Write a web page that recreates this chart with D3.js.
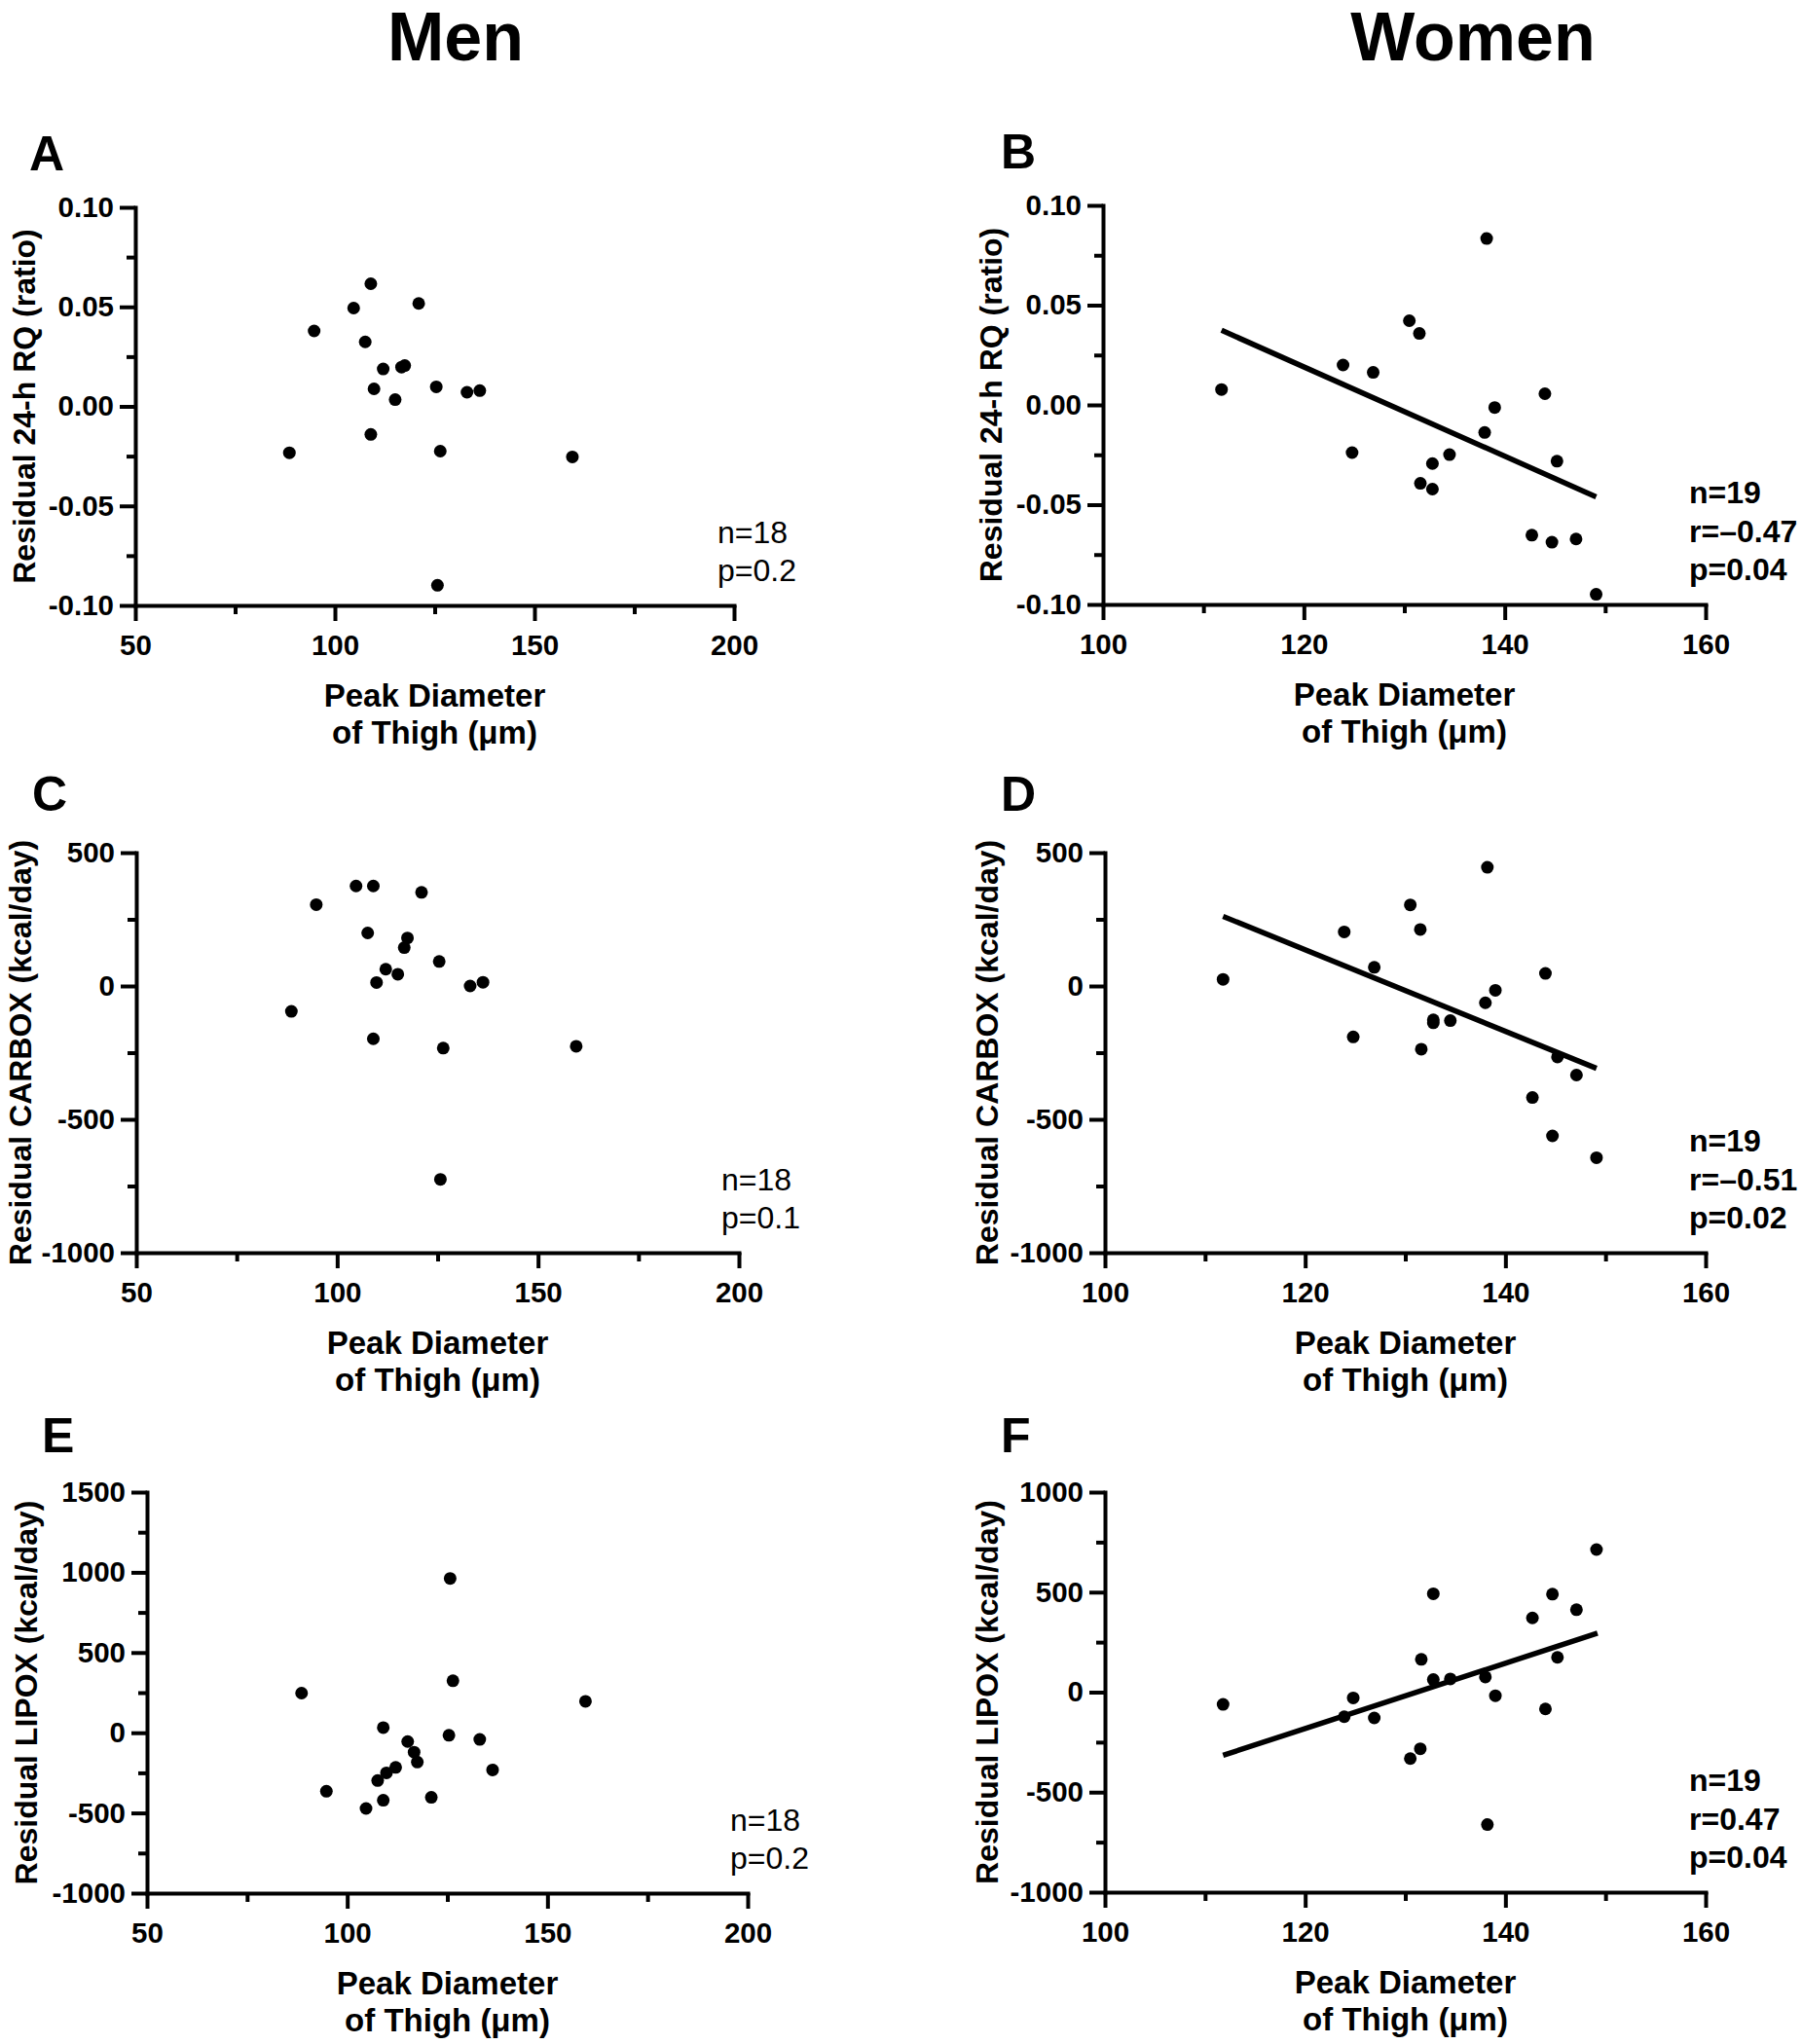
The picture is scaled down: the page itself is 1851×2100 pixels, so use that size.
<!DOCTYPE html>
<html><head><meta charset="utf-8">
<script src="https://cdn.jsdelivr.net/npm/d3@7"></script>
<style>
body{margin:0;background:#fff}
svg{display:block}
text{font-family:"Liberation Sans", Arial, Helvetica, sans-serif;fill:#000}
</style>
</head><body>
<svg id="chart" width="1851" height="2100"></svg>
<script>
// ---------------- DATA ----------------
const menDiameter = [88.6, 94.8, 104.7, 109.0, 107.6, 112.1, 109.8, 115.1, 109.0, 116.7, 117.5, 121.0, 125.4, 126.4, 125.7, 133.1, 136.3, 159.5];
const menRQ      = [-0.0233, 0.0379, 0.0494, 0.0616, 0.0324, 0.0188, 0.0088, 0.0034, -0.0141, 0.0197, 0.0205, 0.0517, 0.0098, -0.0225, -0.0899, 0.0071, 0.0079, -0.0254];
const menCARBOX  = [-95, 305, 375, 375, 199, 63, 13, 44, -198, 144, 180, 351, 92, -233, -725, 0, 14, -226];
const menLIPOX   = [247, -365, -472, -421, -298, -216, -250, -55, 32, -121, -183, -403, -16, 324, 962, -42, -232, 196];

const womenDiameter = [111.8, 123.9, 124.8, 126.9, 130.5, 131.5, 131.6, 132.8, 132.8, 134.5, 138.2, 138.0, 139.0, 142.7, 144.0, 144.7, 145.2, 147.1, 149.1];
const womenRQ       = [0.0077, 0.0200, -0.0239, 0.0163, 0.0422, 0.0358, -0.0393, -0.0422, -0.0294, -0.0249, 0.0834, -0.0138, -0.0013, -0.0653, 0.0056, -0.0688, -0.0282, -0.0672, -0.0949];
const womenCARBOX   = [25, 203, -191, 70, 304, 212, -237, -138, -127, -130, 445, -63, -16, -418, 47, -562, -266, -334, -644];
const womenLIPOX    = [-61, -123, -29, -129, -332, -283, 164, 492, 63, 66, -662, 76, -18, 371, -84, 490, 174, 412, 713];

// regression lines (women), endpoints
const fitRQ     = [[111.8, 0.0374], [149.1, -0.0461]];
const fitCARBOX = [[111.8, 261], [149.1, -309]];
const fitLIPOX  = [[111.8, -316], [149.2, 295]];

// ticks
const menXTicks = [50, 100, 150, 200];
const menXMinor = [75, 125, 175];
const womenXTicks = [100, 120, 140, 160];
const womenXMinor = [110, 130, 150];
const rqTicks = [-0.10, -0.05, 0.00, 0.05, 0.10];
const rqMinor = [-0.075, -0.025, 0.025, 0.075];
const carboxTicks = [-1000, -500, 0, 500];
const carboxMinor = [-750, -250, 250];
const lipoxMenTicks = [-1000, -500, 0, 500, 1000, 1500];
const lipoxMenMinor = [-750, -250, 250, 750, 1250];
const lipoxWomenTicks = [-1000, -500, 0, 500, 1000];
const lipoxWomenMinor = [-750, -250, 250, 750];

const columnTitles = ["Men", "Women"];
const xTitleLines = ["Peak Diameter", "of Thigh (\u03bcm)"];
const yTitles = ["Residual 24-h RQ (ratio)", "Residual CARBOX (kcal/day)", "Residual LIPOX (kcal/day)"];
const statsMen = [["n=18", "p=0.2"], ["n=18", "p=0.1"], ["n=18", "p=0.2"]];
const statsWomen = [["n=19", "r=\u20130.47", "p=0.04"], ["n=19", "r=\u20130.51", "p=0.02"], ["n=19", "r=0.47", "p=0.04"]];
const letters = ["A", "B", "C", "D", "E", "F"];

// ---------------- LAYOUT ----------------
const svg = d3.select('#chart');
const FONT_TICK = 29.5, FONT_TITLE = 33, FONT_YTITLE = 32, FONT_STAT = 32;

svg.append('text').attr('x', 468).attr('y', 62).attr('text-anchor', 'middle')
  .attr('font-size', 70).attr('font-weight', 'bold').text(columnTitles[0]);
svg.append('text').attr('x', 1513).attr('y', 62).attr('text-anchor', 'middle')
  .attr('font-size', 70).attr('font-weight', 'bold').text(columnTitles[1]);

const fmt2 = v => v.toFixed(2);
const fmt0 = v => String(v);

const panels = [
  {box:{l:139,r:754,t:213,b:622}, letterPos:[30,175], titleX:26, statX:737,
   xs:menDiameter, ys:menRQ, xd:[50,200], xt:menXTicks, xm:menXMinor,
   yd:[-0.1,0.1], yt:rqTicks, ym:rqMinor, yf:fmt2, yTitle:yTitles[0], stats:statsMen[0], bold:false, fit:null},
  {box:{l:1133,r:1752,t:211,b:621}, letterPos:[1028,173], titleX:1019, statX:1735,
   xs:womenDiameter, ys:womenRQ, xd:[100,160], xt:womenXTicks, xm:womenXMinor,
   yd:[-0.1,0.1], yt:rqTicks, ym:rqMinor, yf:fmt2, yTitle:yTitles[0], stats:statsWomen[0], bold:true, fit:fitRQ},
  {box:{l:140,r:759,t:876,b:1287}, letterPos:[33,833], titleX:22, statX:741,
   xs:menDiameter, ys:menCARBOX, xd:[50,200], xt:menXTicks, xm:menXMinor,
   yd:[-1000,500], yt:carboxTicks, ym:carboxMinor, yf:fmt0, yTitle:yTitles[1], stats:statsMen[1], bold:false, fit:null},
  {box:{l:1135,r:1752,t:876,b:1287}, letterPos:[1028,833], titleX:1015, statX:1735,
   xs:womenDiameter, ys:womenCARBOX, xd:[100,160], xt:womenXTicks, xm:womenXMinor,
   yd:[-1000,500], yt:carboxTicks, ym:carboxMinor, yf:fmt0, yTitle:yTitles[1], stats:statsWomen[1], bold:true, fit:fitCARBOX},
  {box:{l:151,r:768,t:1533,b:1945}, letterPos:[43,1492], titleX:28, statX:750,
   xs:menDiameter, ys:menLIPOX, xd:[50,200], xt:menXTicks, xm:menXMinor,
   yd:[-1000,1500], yt:lipoxMenTicks, ym:lipoxMenMinor, yf:fmt0, yTitle:yTitles[2], stats:statsMen[2], bold:false, fit:null},
  {box:{l:1135,r:1752,t:1533,b:1944}, letterPos:[1028,1492], titleX:1015, statX:1735,
   xs:womenDiameter, ys:womenLIPOX, xd:[100,160], xt:womenXTicks, xm:womenXMinor,
   yd:[-1000,1000], yt:lipoxWomenTicks, ym:lipoxWomenMinor, yf:fmt0, yTitle:yTitles[2], stats:statsWomen[2], bold:true, fit:fitLIPOX}
];

panels.forEach((p, i) => {
  const b = p.box;
  const x = d3.scaleLinear().domain(p.xd).range([b.l, b.r]);
  const y = d3.scaleLinear().domain(p.yd).range([b.b, b.t]);
  const g = svg.append('g');

  // panel letter
  g.append('text').attr('x', p.letterPos[0]).attr('y', p.letterPos[1])
    .attr('font-size', 50).attr('font-weight', 'bold').text(letters[i]);

  // minor ticks
  const xMinorAxis = d3.axisBottom(x).tickValues(p.xm).tickSize(9).tickFormat('');
  const yMinorAxis = d3.axisLeft(y).tickValues(p.ym).tickSize(9).tickFormat('');
  const gxm = g.append('g').attr('transform', `translate(0,${b.b})`).call(xMinorAxis);
  const gym = g.append('g').attr('transform', `translate(${b.l},0)`).call(yMinorAxis);
  [gxm, gym].forEach(a => { a.select('.domain').remove(); a.selectAll('line').attr('stroke', '#000').attr('stroke-width', 4); });

  // major axes
  const xAxis = d3.axisBottom(x).tickValues(p.xt).tickSize(16).tickSizeOuter(0).tickPadding(14).tickFormat(fmt0);
  const yAxis = d3.axisLeft(y).tickValues(p.yt).tickSize(16).tickSizeOuter(0).tickPadding(6).tickFormat(p.yf);
  const gx = g.append('g').attr('transform', `translate(0,${b.b})`).call(xAxis);
  const gy = g.append('g').attr('transform', `translate(${b.l},0)`).call(yAxis);
  [gx, gy].forEach(a => {
    a.select('.domain').attr('stroke', '#000').attr('stroke-width', 4).attr('stroke-linecap', 'square');
    a.selectAll('line').attr('stroke', '#000').attr('stroke-width', 4);
    a.selectAll('text').attr('font-size', FONT_TICK).attr('font-weight', 'bold')
      .attr('font-family', '"Liberation Sans", Arial, sans-serif').attr('fill', '#000');
  });

  // axis titles
  const cx = (b.l + b.r) / 2;
  xTitleLines.forEach((t, k) => {
    g.append('text').attr('x', cx).attr('y', b.b + 104 + 38 * k).attr('text-anchor', 'middle')
      .attr('font-size', FONT_TITLE).attr('font-weight', 'bold').text(t);
  });
  g.append('text').attr('transform', `translate(${p.titleX},${(b.t + b.b) / 2}) rotate(-90)`)
    .attr('dy', '0.3em').attr('text-anchor', 'middle')
    .attr('font-size', FONT_YTITLE).attr('font-weight', 'bold').text(p.yTitle);

  // regression line
  if (p.fit) {
    g.append('path').datum(p.fit)
      .attr('d', d3.line().x(d => x(d[0])).y(d => y(d[1])))
      .attr('stroke', '#000').attr('stroke-width', 5.5).attr('fill', 'none');
  }

  // points
  g.selectAll('circle.pt').data(p.xs.map((v, k) => [v, p.ys[k]])).join('circle')
    .attr('class', 'pt').attr('cx', d => x(d[0])).attr('cy', d => y(d[1])).attr('r', 6.5).attr('fill', '#000');

  // stats
  const n = p.stats.length;
  p.stats.forEach((t, k) => {
    g.append('text').attr('x', p.statX).attr('y', b.b - 25 - 39.5 * (n - 1 - k))
      .attr('font-size', FONT_STAT).attr('font-weight', p.bold ? 'bold' : 'normal').text(t);
  });
});
</script>
</body></html>
